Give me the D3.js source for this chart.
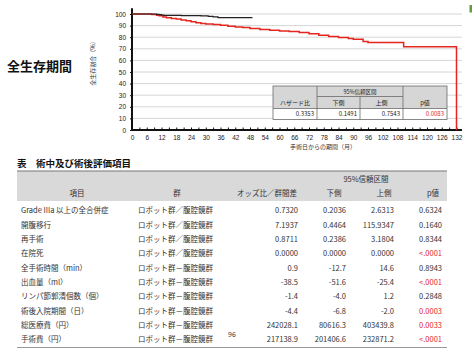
<!DOCTYPE html>
<html><head><meta charset="utf-8">
<script src="https://cdn.jsdelivr.net/npm/d3@7"></script>
<style>
html,body{margin:0;padding:0;background:#fff;}
svg{display:block;font-family:"Noto Sans CJK JP","Noto Sans",sans-serif;}
</style></head>
<body><svg id="c" width="474" height="355"></svg>
<script>
// ---- KM chart data ----
const robotMonths = [0, 9, 10, 11, 12, 13, 20, 28, 31, 33, 35, 49];
const robotSurv   = [100, 100, 99.7, 99.4, 99.1, 98.8, 98.6, 98.4, 98.0, 97.5, 96.8, 96.8];
const lapMonths = [0, 8, 10, 11, 12.6, 14, 16, 18, 20, 22, 24, 26, 28, 30, 33, 36, 39, 42, 45, 48, 52, 56, 60, 64, 68, 72, 76, 80, 84, 88, 90, 94, 96, 110.5, 132];
const lapSurv   = [100, 99.6, 99, 98.4, 97.4, 96.8, 96.2, 95.7, 94.9, 94.1, 93.3, 92.5, 91.9, 91.4, 90.9, 90.2, 89.4, 88.8, 88.4, 87.6, 86.6, 86.0, 85.4, 84.9, 84.0, 82.9, 81.6, 80.6, 79.8, 78.8, 78.2, 76.4, 75.4, 71.8, 0];
const xTickLabels = d3.range(0, 133, 6);
const xMinorTicks = d3.range(0, 134, 3);
const yTickLabels = d3.range(0, 101, 10);
// hazard ratio table
const hrHeaders = ["ハザード比", "下側", "上側", "p値"];
const hrValues = ["0.3353", "0.1491", "0.7543", "0.0083"];
// ---- evaluation table data ----
const items = ["Grade IIIa 以上の全合併症", "開腹移行", "再手術", "在院死", "全手術時間（min）", "出血量（ml）", "リンパ節郭清個数（個）", "術後入院期間（日）", "総医療費（円）", "手術費（円）"];
const groups = ["ロボット群／腹腔鏡群", "ロボット群／腹腔鏡群", "ロボット群／腹腔鏡群", "ロボット群／腹腔鏡群", "ロボット群－腹腔鏡群", "ロボット群－腹腔鏡群", "ロボット群－腹腔鏡群", "ロボット群－腹腔鏡群", "ロボット群－腹腔鏡群", "ロボット群－腹腔鏡群"];
const estimates = ["0.7320", "7.1937", "0.8711", "0.0000", "0.9", "-38.5", "-1.4", "-4.4", "242028.1", "217138.9"];
const lowers = ["0.2036", "0.4464", "0.2386", "0.0000", "-12.7", "-51.6", "-4.0", "-6.8", "80616.3", "201406.6"];
const uppers = ["2.6313", "115.9347", "3.1804", "0.0000", "14.6", "-25.4", "1.2", "-2.0", "403439.8", "232871.2"];
const pvals = ["0.6324", "0.1640", "0.8344", "<.0001", "0.8943", "<.0001", "0.2848", "0.0003", "0.0033", "<.0001"];
const pSignificant = [false, false, false, true, false, true, false, true, true, true];

const svg = d3.select("#c");
const RED = "#e5261e";

// ---- titles ----
svg.append("text").attr("x", 7).attr("y", 71).attr("font-size", 13).attr("font-weight", "bold").attr("fill", "#111").text("全生存期間");

// ---- KM chart ----
const x = d3.scaleLinear().domain([0, 132]).range([132, 456.5]);
const y = d3.scaleLinear().domain([0, 100]).range([130, 14]);
const xEnd = 462;

// gridlines
svg.append("g").selectAll("line").data(yTickLabels.filter(d => d > 0)).join("line")
  .attr("x1", x(0)).attr("x2", xEnd).attr("y1", d => y(d)).attr("y2", d => y(d))
  .attr("stroke", "#d6d6d6").attr("stroke-width", 1);

// y axis
const yAxis = svg.append("g").attr("transform", `translate(${x(0)},0)`)
  .call(d3.axisLeft(y).tickValues(yTickLabels).tickSize(2).tickPadding(4).tickFormat(d3.format("d")));
yAxis.select(".domain").remove();
yAxis.selectAll("text").attr("font-size", 6.5).attr("fill", "#222").attr("font-family", "Liberation Sans, sans-serif");
yAxis.selectAll("line").attr("stroke", "#111");
svg.append("line").attr("x1", x(0)).attr("x2", x(0)).attr("y1", y(105)).attr("y2", y(0) + 1)
  .attr("stroke", "#111").attr("stroke-width", 2);

// x axis minor ticks + labels
const xMinor = svg.append("g").attr("transform", `translate(0,${y(0)})`)
  .call(d3.axisBottom(x).tickValues(xMinorTicks).tickSize(-2.5).tickFormat(""));
xMinor.select(".domain").remove();
xMinor.selectAll("line").attr("stroke", "#111").attr("stroke-width", 1);
const xAx = svg.append("g").attr("transform", `translate(0,${y(0)})`)
  .call(d3.axisBottom(x).tickValues(xTickLabels).tickSize(0).tickPadding(5).tickFormat(d3.format("d")));
xAx.select(".domain").remove();
xAx.selectAll("text").attr("font-size", 6.5).attr("fill", "#222").attr("font-family", "Liberation Sans, sans-serif");
svg.append("line").attr("x1", x(0) - 1).attr("x2", xEnd).attr("y1", y(0)).attr("y2", y(0))
  .attr("stroke", "#111").attr("stroke-width", 2);

// axis titles
svg.append("text").attr("transform", `translate(95,62) rotate(-90)`).attr("text-anchor", "middle")
  .attr("font-size", 6).attr("fill", "#333").text("全生存割合（%）");
svg.append("text").attr("x", 323).attr("y", 149).attr("text-anchor", "middle")
  .attr("font-size", 6).attr("fill", "#333").text("手術日からの期間（月）");

// curves
const line = d3.line().x(d => x(d[0])).y(d => y(d[1])).curve(d3.curveStepAfter);
svg.append("path").datum(d3.zip(lapMonths, lapSurv)).attr("d", line)
  .attr("fill", "none").attr("stroke", RED).attr("stroke-width", 1.5);
svg.append("path").datum(d3.zip(robotMonths, robotSurv)).attr("d", line)
  .attr("fill", "none").attr("stroke", "#222").attr("stroke-width", 1.2);

// green marker
svg.append("rect").attr("x", 469.5).attr("y", 5).attr("width", 2.5).attr("height", 7.5).attr("fill", "#5aa03c");

// hazard table
(function(){
  const cols = [273, 317, 360, 403, 447];
  const top = 86, r1 = 96.5, r2 = 108.5, bot = 119.5;
  const g = svg.append("g");
  g.append("rect").attr("x", cols[0]).attr("y", top).attr("width", cols[4] - cols[0]).attr("height", r2 - top).attr("fill", "#d6d6d6");
  g.append("rect").attr("x", cols[0]).attr("y", r2).attr("width", cols[4] - cols[0]).attr("height", bot - r2).attr("fill", "#fff");
  const st = "#6a6a6a";
  g.append("rect").attr("x", cols[0]).attr("y", top).attr("width", cols[4] - cols[0]).attr("height", bot - top).attr("fill", "none").attr("stroke", st).attr("stroke-width", 0.8);
  g.append("line").attr("x1", cols[1]).attr("x2", cols[3]).attr("y1", r1).attr("y2", r1).attr("stroke", st).attr("stroke-width", 0.8);
  g.append("line").attr("x1", cols[0]).attr("x2", cols[4]).attr("y1", r2).attr("y2", r2).attr("stroke", st).attr("stroke-width", 0.8);
  [cols[1], cols[3]].forEach(cx => g.append("line").attr("x1", cx).attr("x2", cx).attr("y1", top).attr("y2", bot).attr("stroke", st).attr("stroke-width", 0.8));
  g.append("line").attr("x1", cols[2]).attr("x2", cols[2]).attr("y1", r1).attr("y2", bot).attr("stroke", st).attr("stroke-width", 0.8);
  g.append("text").attr("x", (cols[1] + cols[3]) / 2).attr("y", 93.5).attr("text-anchor", "middle").attr("font-size", 5.5).attr("fill", "#222").text("95%信頼区間");
  hrHeaders.forEach((h, i) => {
    g.append("text").attr("x", (cols[i] + cols[i + 1]) / 2).attr("y", 104.8).attr("text-anchor", "middle")
      .attr("font-size", 6).attr("fill", "#222").text(h);
  });
  hrValues.forEach((v, i) => {
    g.append("text").attr("x", cols[i + 1] - 3).attr("y", 116.3).attr("text-anchor", "end")
      .attr("font-size", 6).attr("fill", i === 3 ? RED : "#222").text(v);
  });
})();

// ---- evaluation table ----
svg.append("text").attr("x", 17).attr("y", 167).attr("font-size", 9.5).attr("font-weight", "bold").attr("fill", "#111").text("表　術中及び術後評価項目");

const tL = 17, tR = 447, hTop = 171, hBot = 201, tBot = 347.5;
svg.append("rect").attr("x", tL).attr("y", hTop).attr("width", tR - tL).attr("height", hBot - hTop).attr("fill", "#d9d9d9");
svg.append("line").attr("x1", tL).attr("x2", tR).attr("y1", hTop).attr("y2", hTop).attr("stroke", "#777").attr("stroke-width", 1);
svg.append("line").attr("x1", tL).attr("x2", tR).attr("y1", tBot).attr("y2", tBot).attr("stroke", "#999").attr("stroke-width", 1);

const TXT = "#333";
const hdr = svg.append("g").attr("font-size", 7.5).attr("fill", TXT);
hdr.append("text").attr("x", 366).attr("y", 181.5).attr("text-anchor", "middle").text("95%信頼区間");
const hdrCols = [["項目", 77, "middle"], ["群", 177, "middle"], ["オッズ比／群間差", 297, "end"], ["下側", 334, "middle"], ["上側", 384, "middle"], ["p値", 433, "middle"]];
hdrCols.forEach(([t, cx, a]) => hdr.append("text").attr("x", cx).attr("y", 196).attr("text-anchor", a).text(t));

const rowY = d3.scalePoint().domain(d3.range(items.length)).range([210.5, 339.5]);
const body = svg.append("g").attr("font-size", 7.5).attr("fill", TXT);
items.forEach((it, i) => {
  const by = rowY(i) + 2.7;
  body.append("text").attr("x", 21).attr("y", by).text(it);
  body.append("text").attr("x", 138).attr("y", by).text(groups[i]);
  body.append("text").attr("x", 298).attr("y", by).attr("text-anchor", "end").text(estimates[i]);
  body.append("text").attr("x", 346).attr("y", by).attr("text-anchor", "end").text(lowers[i]);
  body.append("text").attr("x", 394).attr("y", by).attr("text-anchor", "end").text(uppers[i]);
  body.append("text").attr("x", 442).attr("y", by).attr("text-anchor", "end").attr("fill", pSignificant[i] ? RED : TXT).text(pvals[i]);
});
svg.append("text").attr("x", 232).attr("y", 337).attr("text-anchor", "middle").attr("font-size", 7).attr("fill", "#333").text("96");
</script></body></html>
